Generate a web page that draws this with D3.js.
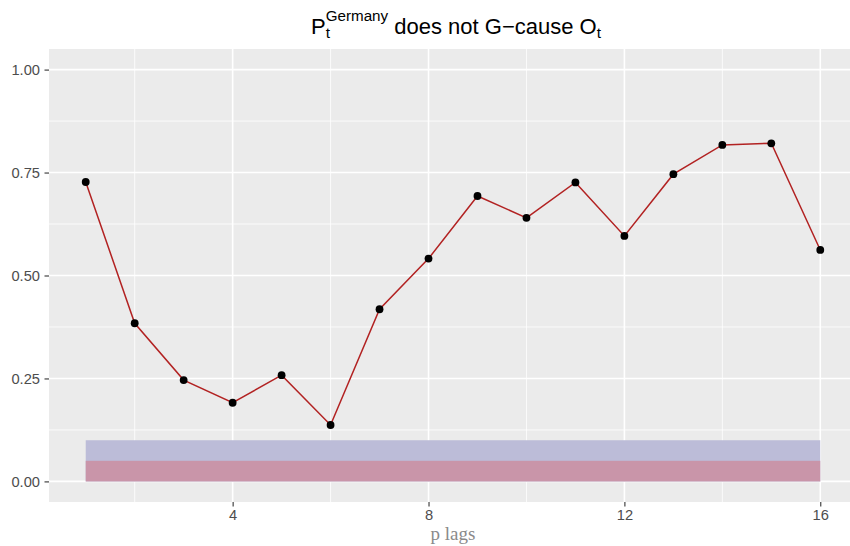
<!DOCTYPE html>
<html>
<head>
<meta charset="utf-8">
<script src="https://cdn.jsdelivr.net/npm/d3@7"></script>
<style>
  html, body { margin: 0; padding: 0; background: #ffffff; }
  svg { display: block; }
</style>
</head>
<body>
<svg id="chart" width="850" height="546"></svg>
<script>
// Lag orders tested and the p-values of the Granger test at each lag
const lags = [1, 2, 3, 4, 5, 6, 7, 8, 9, 10, 11, 12, 13, 14, 15, 16];
const pValues = [0.727, 0.384, 0.246, 0.191, 0.258, 0.137, 0.418, 0.541,
                 0.693, 0.640, 0.726, 0.596, 0.746, 0.817, 0.821, 0.562];
// Significance bands (10% and 5%)
const bandLevels = [0.10, 0.05];
const bandColors = ["#bcbcd8", "#c995a9"];
// Axis ticks
const xTicks = [4, 8, 12, 16];
const xMinor = [2, 6, 10, 14];
const yTicks = [0, 0.25, 0.5, 0.75, 1];
const yMinor = [0.125, 0.375, 0.625, 0.875];
const yTickLabels = ["0.00", "0.25", "0.50", "0.75", "1.00"];

const svg = d3.select("#chart");
const panel = { left: 49, right: 857, top: 49, bottom: 502 };

const x = d3.scaleLinear().domain([0.25, 16.75]).range([panel.left, panel.right]);
const y = d3.scaleLinear().domain([-0.05, 1.05]).range([panel.bottom, panel.top]);

// panel background
svg.append("rect")
  .attr("x", panel.left).attr("y", panel.top)
  .attr("width", panel.right - panel.left).attr("height", panel.bottom - panel.top)
  .attr("fill", "#ebebeb");

const grid = svg.append("g");
grid.selectAll(".ymin").data(yMinor).join("line")
  .attr("x1", panel.left).attr("x2", panel.right)
  .attr("y1", d => y(d)).attr("y2", d => y(d))
  .attr("stroke", "#ffffff").attr("stroke-width", 0.8);
grid.selectAll(".xmin").data(xMinor).join("line")
  .attr("y1", panel.top).attr("y2", panel.bottom)
  .attr("x1", d => x(d)).attr("x2", d => x(d))
  .attr("stroke", "#ffffff").attr("stroke-width", 0.8);
grid.selectAll(".ymaj").data(yTicks).join("line")
  .attr("x1", panel.left).attr("x2", panel.right)
  .attr("y1", d => y(d)).attr("y2", d => y(d))
  .attr("stroke", "#ffffff").attr("stroke-width", 1.6);
grid.selectAll(".xmaj").data(xTicks).join("line")
  .attr("y1", panel.top).attr("y2", panel.bottom)
  .attr("x1", d => x(d)).attr("x2", d => x(d))
  .attr("stroke", "#ffffff").attr("stroke-width", 1.6);

// significance bands spanning the tested lags
svg.append("g").selectAll("rect").data(bandLevels).join("rect")
  .attr("x", x(d3.min(lags)))
  .attr("width", x(d3.max(lags)) - x(d3.min(lags)))
  .attr("y", d => y(d))
  .attr("height", d => y(0) - y(d))
  .attr("fill", (d, i) => bandColors[i]);

// p-value line and points
const line = d3.line().x((d, i) => x(lags[i])).y(d => y(d));
svg.append("path").datum(pValues)
  .attr("d", line).attr("fill", "none")
  .attr("stroke", "#b22222").attr("stroke-width", 1.5);
svg.append("g").selectAll("circle").data(pValues).join("circle")
  .attr("cx", (d, i) => x(lags[i])).attr("cy", d => y(d))
  .attr("r", 3.9).attr("fill", "#000000");

// axes
const xAxis = d3.axisBottom(x).tickValues(xTicks).tickSize(4.5).tickPadding(3.5)
  .tickFormat(d3.format("d"));
const gx = svg.append("g").attr("transform", `translate(0,${panel.bottom})`).call(xAxis);
const yAxis = d3.axisLeft(y).tickValues(yTicks).tickSize(4.5).tickPadding(4.5)
  .tickFormat((d, i) => yTickLabels[i]);
const gy = svg.append("g").attr("transform", `translate(${panel.left},0)`).call(yAxis);
[gx, gy].forEach(g => {
  g.select(".domain").remove();
  g.selectAll(".tick line").attr("stroke", "#333333").attr("stroke-width", 1.1);
  g.selectAll(".tick text").attr("fill", "#4d4d4d")
    .style("font-family", "'Liberation Sans', Arial, sans-serif").style("font-size", "14.7px");
});

// x axis title
svg.append("text")
  .attr("x", (panel.left + panel.right) / 2).attr("y", 540)
  .attr("text-anchor", "middle")
  .style("font-family", "'Liberation Serif', 'Times New Roman', serif")
  .style("font-size", "19px").attr("fill", "#8a8a8a")
  .text("p lags");

// title: P with stacked sub/superscript, then the rest
const title = svg.append("g")
  .style("font-family", "'Liberation Sans', Arial, sans-serif").attr("fill", "#000000");
const base = 33.5;
const tP = title.append("text").attr("y", base).style("font-size", "22px").text("P");
const tSub = title.append("text").attr("y", base + 4).style("font-size", "15.5px").text("t");
const tSup = title.append("text").attr("y", base - 13).style("font-size", "15.2px").text("Germany");
const tRest = title.append("text").attr("y", base).style("font-size", "22px").text("does not G\u2212cause O");
const tSub2 = title.append("text").attr("y", base + 4).style("font-size", "15.5px").text("t");

const wP = tP.node().getComputedTextLength();
const wSub = tSub.node().getComputedTextLength();
const wSup = tSup.node().getComputedTextLength();
const wRest = tRest.node().getComputedTextLength();
const wSub2 = tSub2.node().getComputedTextLength();
const space = 22 * 0.278;
const scriptW = Math.max(wSub, wSup);
const total = wP + scriptW + space + wRest + wSub2;
let cx = 456 - total / 2;
tP.attr("x", cx); cx += wP;
tSub.attr("x", cx); tSup.attr("x", cx); cx += scriptW + space;
tRest.attr("x", cx); cx += wRest;
tSub2.attr("x", cx);
</script>
</body>
</html>
